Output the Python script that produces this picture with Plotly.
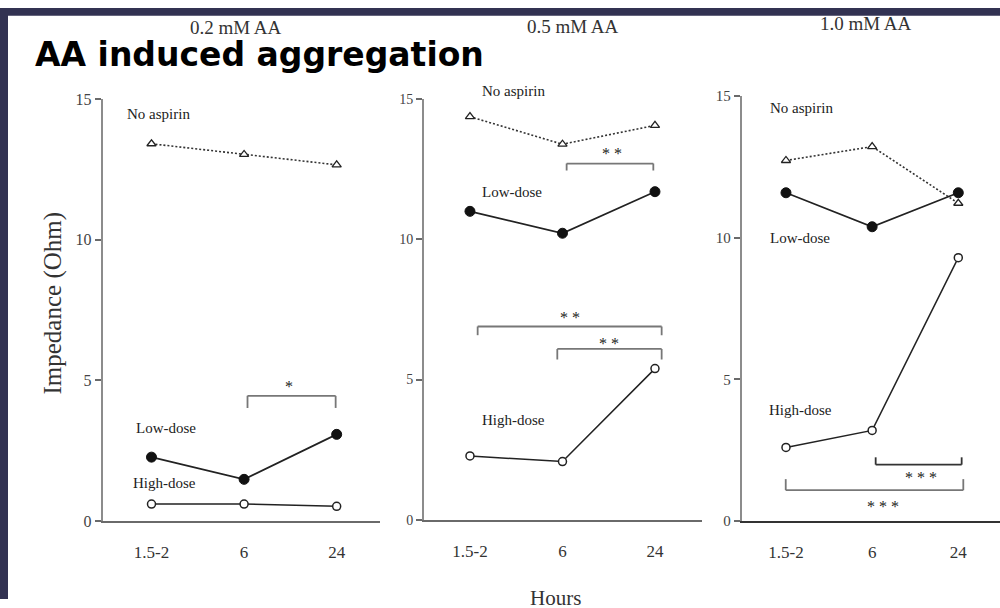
import plotly.graph_objects as go

# ---------------- data ----------------
hours = ["1.5-2", "6", "24"]
panel_titles = ["0.2 mM AA", "0.5 mM AA", "1.0 mM AA"]
series_names = ["No aspirin", "Low-dose", "High-dose"]

no_aspirin_02 = [13.42, 13.04, 12.67]
low_dose_02 = [2.27, 1.48, 3.08]
high_dose_02 = [0.60, 0.60, 0.52]

no_aspirin_05 = [14.36, 13.38, 14.05]
low_dose_05 = [10.99, 10.21, 11.69]
high_dose_05 = [2.28, 2.08, 5.39]

no_aspirin_10 = [12.73, 13.22, 11.22]
low_dose_10 = [11.59, 10.39, 11.59]
high_dose_10 = [2.60, 3.20, 9.30]

y_ticks = [0, 5, 10, 15]

panels = [
    (no_aspirin_02, low_dose_02, high_dose_02),
    (no_aspirin_05, low_dose_05, high_dose_05),
    (no_aspirin_10, low_dose_10, high_dose_10),
]

# ---------------- layout specs ----------------
x_domains = [(0.1027, 0.380), (0.424, 0.7017), (0.7417, 1.0)]
x_ranges = [(-0.527, 2.468), (-0.497, 2.505), (-0.514, 2.484)]
y_domains = [(0.1321, 0.8454), (0.1337, 0.8465), (0.1319, 0.8508)]
ytick_sizes = [16, 14, 15]
xaxis_colors = ["#6a6a6a", "#6a6a6a", "#333333"]
title_pos = [(0.2355, 20.5), (0.573, 19.5), (0.8655, 15.5)]

# series label positions (x in category units, y in data units)
label_pos = [
    [(-0.29, 14.48), (-0.19, 3.32), (-0.22, 1.34)],
    [(0.108, 15.29), (0.108, 11.69), (0.108, 3.55)],
    [(-0.212, 14.59), (-0.212, 9.99), (-0.22, 3.93)],
]

# significance brackets: panel, x0, x1, line y, leg end y, stars, star x, star y
brackets = [
    (0, 1.037, 1.989, 4.45, 4.02, "*", 1.49, 4.78),
    (1, 1.045, 1.982, 12.69, 12.44, "* *", 1.532, 13.05),
    (1, 0.083, 2.072, 6.89, 6.58, "* *", 1.081, 7.20),
    (1, 0.944, 2.072, 6.09, 5.71, "* *", 1.506, 6.28),
    (2, 1.041, 2.039, 1.99, 2.25, "* * *", 1.567, 1.52),
    (2, -0.003, 2.058, 1.09, 1.48, "* * *", 1.129, 0.53),
]

SERIF = "Liberation Serif"
INK = "#222222"

fig = go.Figure()

for i, (na, ld, hd) in enumerate(panels):
    xa = "x" if i == 0 else f"x{i+1}"
    ya = "y" if i == 0 else f"y{i+1}"
    fig.add_trace(go.Scatter(
        x=hours, y=na, xaxis=xa, yaxis=ya, mode="lines+markers",
        name=series_names[0], showlegend=False, cliponaxis=False,
        line=dict(color="#333333", width=1.6, dash="2px,2px"),
        marker=dict(symbol="triangle-up", size=8, color="white",
                    line=dict(color="#222222", width=1.3)),
    ))
    fig.add_trace(go.Scatter(
        x=hours, y=ld, xaxis=xa, yaxis=ya, mode="lines+markers",
        name=series_names[1], showlegend=False, cliponaxis=False,
        line=dict(color="#222222", width=1.7),
        marker=dict(symbol="circle", size=10, color="#111111",
                    line=dict(color="#111111", width=1)),
    ))
    fig.add_trace(go.Scatter(
        x=hours, y=hd, xaxis=xa, yaxis=ya, mode="lines+markers",
        name=series_names[2], showlegend=False, cliponaxis=False,
        line=dict(color="#222222", width=1.5),
        marker=dict(symbol="circle", size=8, color="white",
                    line=dict(color="#222222", width=1.5)),
    ))

layout = dict(
    width=1000, height=608,
    margin=dict(l=0, r=0, t=0, b=0),
    paper_bgcolor="white", plot_bgcolor="white",
    showlegend=False,
)

for i in range(3):
    xk = "xaxis" if i == 0 else f"xaxis{i+1}"
    yk = "yaxis" if i == 0 else f"yaxis{i+1}"
    ya = "y" if i == 0 else f"y{i+1}"
    xa = "x" if i == 0 else f"x{i+1}"
    layout[xk] = dict(
        domain=list(x_domains[i]), anchor=ya, type="category",
        range=list(x_ranges[i]), showgrid=False, zeroline=False,
        showline=True, linecolor=xaxis_colors[i], linewidth=2,
        ticks="outside", ticklen=15, tickcolor="rgba(0,0,0,0)",
        tickfont=dict(family=SERIF, size=17, color="#333333"),
        fixedrange=True,
    )
    layout[yk] = dict(
        domain=list(y_domains[i]), anchor=xa, range=[0, 15],
        tickvals=y_ticks, showgrid=False, zeroline=False,
        showline=True, linecolor="#8c8c8c", linewidth=2,
        ticks="outside", ticklen=6, tickwidth=1.5, tickcolor="#6a6a6a",
        tickfont=dict(family=SERIF, size=ytick_sizes[i], color="#444444"),
        fixedrange=True,
    )

fig.update_layout(**layout)

annotations = []
shapes = []

# dark border (top and left)
shapes.append(dict(type="rect", xref="paper", yref="paper", x0=0, x1=1,
                   y0=(608 - 8) / 608, y1=1, fillcolor="#323252", line_width=0,
                   layer="above"))
shapes.append(dict(type="rect", xref="paper", yref="paper", x0=0, x1=0.008,
                   y0=0, y1=1, fillcolor="#323252", line_width=0, layer="above"))

# panel titles
for i, (px, py) in enumerate(title_pos):
    annotations.append(dict(
        text=panel_titles[i], xref="paper", yref="paper", x=px,
        y=(608 - py) / 608, xanchor="center", yanchor="middle",
        showarrow=False, font=dict(family=SERIF, size=19, color="#333333"),
    ))


def to_paper_y(panel, v):
    d0, d1 = y_domains[panel]
    return d0 + (v / 15.0) * (d1 - d0)


# series labels
for i in range(3):
    xa = "x" if i == 0 else f"x{i+1}"
    for j, (lx, ly) in enumerate(label_pos[i]):
        annotations.append(dict(
            text=series_names[j], xref=xa, yref="paper", x=lx,
            y=to_paper_y(i, ly),
            xanchor="left", yanchor="middle", showarrow=False,
            font=dict(family=SERIF, size=15, color=INK),
        ))

# brackets
for (p, x0, x1, yl, yleg, stars, sx, sy) in brackets:
    xa = "x" if p == 0 else f"x{p+1}"
    ya = "y" if p == 0 else f"y{p+1}"
    col = "#333333" if (p == 2 and yleg > 2) else "#777777"
    for (a, b, c, d) in [(x0, yleg, x0, yl), (x0, yl, x1, yl), (x1, yl, x1, yleg)]:
        shapes.append(dict(type="line", xref=xa, yref=ya, x0=a, y0=b, x1=c, y1=d,
                           line=dict(color=col, width=1.8)))
    annotations.append(dict(
        text=stars, xref=xa, yref="paper", x=sx, y=to_paper_y(p, sy),
        xanchor="center", yanchor="middle", showarrow=False,
        font=dict(family=SERIF, size=16, color="#222222"),
    ))

# axis titles
annotations.append(dict(
    text="Impedance (Ohm)", xref="paper", yref="paper", x=0.052, y=0.5,
    textangle=-90, xanchor="center", yanchor="middle", showarrow=False,
    font=dict(family=SERIF, size=25, color="#333333"),
))
annotations.append(dict(
    text="Hours", xref="paper", yref="paper", x=0.555, y=(608 - 607) / 608,
    xanchor="center", yanchor="middle", showarrow=False,
    font=dict(family=SERIF, size=21, color="#333333"),
))

# main title
annotations.append(dict(
    text="AA induced aggregation", xref="paper", yref="paper", x=0.033,
    y=(608 - 48) / 608, xanchor="left", yanchor="middle", showarrow=False,
    font=dict(family="DejaVu Sans", size=33, color="black", weight="bold"),
))

fig.update_layout(annotations=annotations, shapes=shapes)

fig.write_html("out.html")
